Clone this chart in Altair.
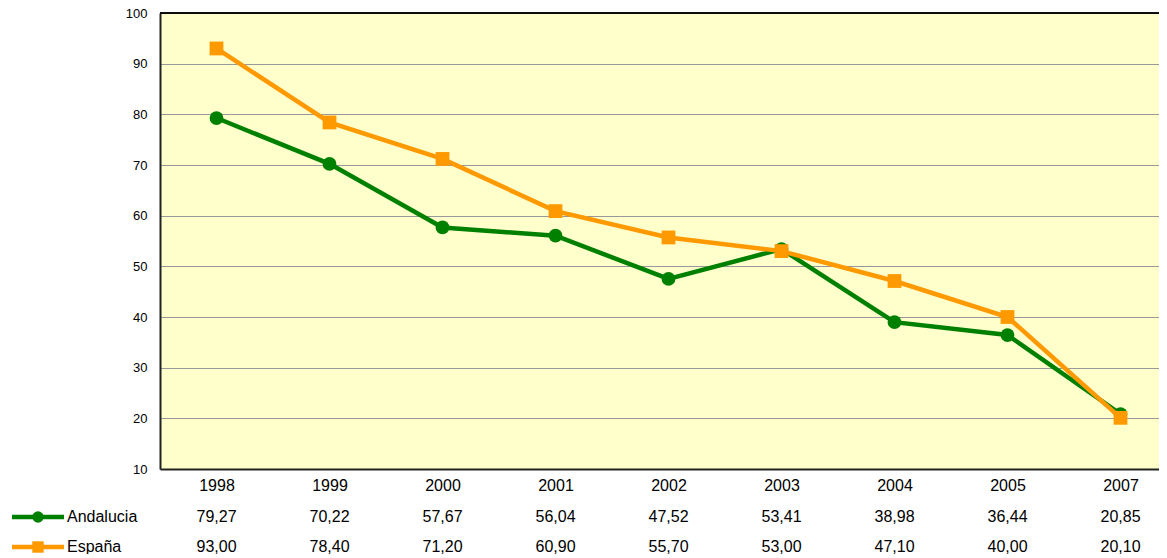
import altair as alt
import pandas as pd

years = ["1998", "1999", "2000", "2001", "2002", "2003", "2004", "2005", "2007"]
andalucia = [79.27, 70.22, 57.67, 56.04, 47.52, 53.41, 38.98, 36.44, 20.85]
espana = [93.00, 78.40, 71.20, 60.90, 55.70, 53.00, 47.10, 40.00, 20.10]
series_names = ["Andalucia", "España"]
series_colors = ["#008000", "#FF9900"]
series_shapes = ["circle", "square"]
y_ticks = [10, 20, 30, 40, 50, 60, 70, 80, 90, 100]

rows = []
for name, vals in zip(series_names, [andalucia, espana]):
    for yr, v in zip(years, vals):
        rows.append({"year": yr, "series": name, "value": v,
                     "label": f"{v:.2f}".replace(".", ",")})
df = pd.DataFrame(rows)
legend_df = pd.DataFrame({"series": series_names})

FONT = "Liberation Sans"
W, H, STEP = 999, 456, 113

x_scale = alt.Scale(type="point", domain=years, range=[0, STEP * len(years)], padding=0.5)
y_scale = alt.Scale(domain=[10, 100], nice=False, zero=False)
color_scale = alt.Scale(domain=series_names, range=series_colors)
shape_scale = alt.Scale(domain=series_names, range=series_shapes)
row_scale = alt.Scale(type="point", domain=series_names, range=[504, 534], padding=0)

x_axis = alt.Axis(title=None, labelAngle=0, ticks=False, labelPadding=8,
                  labelFontSize=16, domainColor="#222", domainWidth=2, grid=False)
X = alt.X("year:O", scale=x_scale, axis=x_axis)
Y = alt.Y("value:Q", scale=y_scale,
          axis=alt.Axis(title=None, values=y_ticks, ticks=False, labelPadding=13,
                        labelFontSize=13, grid=True, gridColor="#999999", gridWidth=1,
                        domainColor="#222", domainWidth=2))

layers = []
for name in series_names:
    sub = alt.Chart(df).transform_filter(alt.datum.series == name)
    layers.append(sub.mark_line(strokeWidth=4.5).encode(
        x=X, y=Y, color=alt.Color("series:N", scale=color_scale, legend=None)))
    layers.append(sub.mark_point(filled=True, opacity=1, size=190).encode(
        x=X, y=Y,
        color=alt.Color("series:N", scale=color_scale, legend=None),
        shape=alt.Shape("series:N", scale=shape_scale, legend=None)))

top_border = alt.Chart(legend_df).mark_rule(color="#000", strokeWidth=1.5).encode(
    y=alt.datum(100))

main = alt.layer(top_border, *layers)

ROW = alt.Y("series:N", scale=row_scale, axis=None)
table_text = alt.Chart(df).mark_text(fontSize=16, font=FONT, color="#000",
                                     baseline="middle", align="center").encode(
    x=X, y=ROW, text="label:N")
legend_line = alt.Chart(legend_df).mark_rule(strokeWidth=4.5).encode(
    x=alt.value(-148), x2=alt.value(-96), y=ROW,
    color=alt.Color("series:N", scale=color_scale, legend=None))
legend_pt = alt.Chart(legend_df).mark_point(filled=True, opacity=1, size=130).encode(
    x=alt.value(-122), y=ROW,
    color=alt.Color("series:N", scale=color_scale, legend=None),
    shape=alt.Shape("series:N", scale=shape_scale, legend=None))
legend_txt = alt.Chart(legend_df).mark_text(fontSize=16, font=FONT, color="#000",
                                            align="left", baseline="middle").encode(
    x=alt.value(-93), y=ROW, text="series:N")

table = alt.layer(table_text, legend_line, legend_pt, legend_txt)

chart = alt.layer(main, table).resolve_scale(y="independent").properties(
    width=W, height=H,
    autosize=alt.AutoSizeParams(type="none"),
    padding={"left": 152, "top": 5, "right": 0, "bottom": 85},
).configure_view(fill="#FFFFCC", stroke=None).configure_axis(
    labelFont=FONT, labelColor="#000"
)

chart.save("out.html", embed_options={"renderer": "svg", "actions": False})
